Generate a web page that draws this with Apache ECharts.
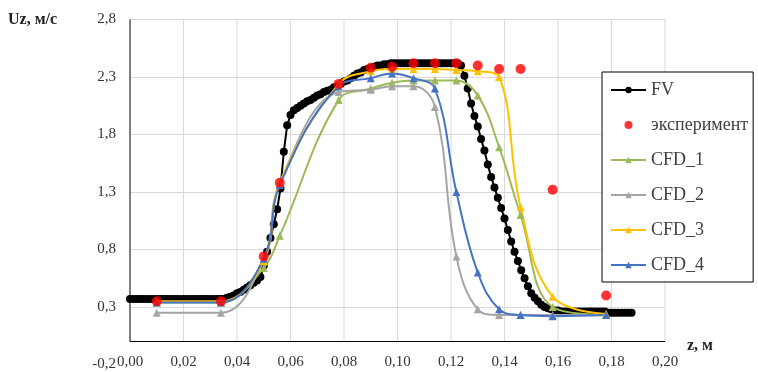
<!DOCTYPE html>
<html>
<head>
<meta charset="utf-8">
<script src="https://cdn.jsdelivr.net/npm/echarts@6.0.0/dist/echarts.min.js"></script>
<style>
html,body{margin:0;padding:0;background:#fff;}
#main{width:758px;height:372px;}
</style>
</head>
<body>
<div id="main"></div>
<script>
// точки эксперимента и узлы CFD
var cfdZ = [0.01, 0.034, 0.05, 0.056, 0.078, 0.09, 0.098, 0.106, 0.114, 0.122, 0.13, 0.138, 0.146, 0.158, 0.178];
var expU = [0.35, 0.35, 0.74, 1.38, 2.24, 2.38, 2.39, 2.42, 2.42, 2.42, 2.40, 2.37, 2.37, 1.32, 0.40];
var cfd1 = [0.34, 0.34, 0.64, 0.92, 2.10, 2.20, 2.25, 2.27, 2.27, 2.27, 2.14, 1.69, 1.10, 0.30, 0.23];
var cfd2 = [0.25, 0.25, 0.72, 1.38, 2.17, 2.19, 2.22, 2.22, 2.04, 0.74, 0.28, 0.23, 0.23, 0.23, 0.23];
var cfd3 = [0.35, 0.35, 0.70, 1.38, 2.24, 2.35, 2.37, 2.37, 2.37, 2.36, 2.35, 2.30, 1.17, 0.39, 0.24];
var cfd4 = [0.34, 0.34, 0.72, 1.36, 2.22, 2.29, 2.33, 2.29, 2.20, 1.30, 0.60, 0.28, 0.23, 0.22, 0.23];

// FV - плотная сетка
var fv = [
 [0,0.37],[0.00125,0.37],[0.0025,0.37],[0.00375,0.37],[0.005,0.37],[0.00625,0.37],
 [0.0075,0.37],[0.00875,0.37],[0.01,0.37],[0.01125,0.37],[0.0125,0.37],[0.01375,0.37],
 [0.015,0.37],[0.01625,0.37],[0.0175,0.37],[0.01875,0.37],[0.02,0.37],[0.02125,0.37],
 [0.0225,0.37],[0.02375,0.37],[0.025,0.37],[0.02625,0.37],[0.0275,0.37],[0.02875,0.37],
 [0.03,0.37],[0.03125,0.37],[0.0325,0.37],[0.03375,0.37],[0.035,0.37],[0.03625,0.38],
 [0.0375,0.39],[0.03875,0.40],[0.04,0.42],[0.04125,0.43],[0.0425,0.45],[0.04375,0.47],
 [0.045,0.49],[0.04625,0.51],[0.0475,0.53],[0.04875,0.56],[0.05,0.66],[0.05125,0.78],
 [0.0525,0.90],[0.05375,1.02],[0.055,1.15],[0.05625,1.33],[0.0575,1.65],[0.05875,1.88],
 [0.06,1.97],[0.06125,2.01],[0.0625,2.03],[0.06375,2.05],[0.065,2.07],[0.06625,2.09],
 [0.0675,2.10],[0.06875,2.12],[0.07,2.14],[0.07125,2.15],[0.0725,2.17],[0.07375,2.18],
 [0.075,2.19],[0.07625,2.21],[0.0775,2.22],[0.07875,2.24],[0.08,2.26],[0.08125,2.27],
 [0.0825,2.29],[0.08375,2.31],[0.085,2.33],[0.08625,2.34],[0.0875,2.36],[0.08875,2.37],
 [0.09,2.38],[0.09125,2.39],[0.0925,2.40],[0.09375,2.40],[0.095,2.41],[0.09625,2.41],
 [0.0975,2.42],[0.09875,2.42],[0.1,2.42],[0.10125,2.42],[0.1025,2.42],[0.10375,2.42],
 [0.105,2.42],[0.10625,2.42],[0.1075,2.42],[0.10875,2.42],[0.11,2.42],[0.11125,2.42],
 [0.1125,2.42],[0.11375,2.42],[0.115,2.42],[0.11625,2.42],[0.1175,2.42],[0.11875,2.42],
 [0.12,2.42],[0.12125,2.42],[0.1225,2.42],[0.12375,2.40],[0.125,2.31],[0.12625,2.20],
 [0.1275,2.07],[0.12875,1.96],[0.13,1.87],[0.13125,1.76],[0.1325,1.66],[0.13375,1.54],
 [0.135,1.43],[0.13625,1.34],[0.1375,1.25],[0.13875,1.16],[0.14,1.07],[0.14125,0.97],
 [0.1425,0.87],[0.14375,0.78],[0.145,0.70],[0.14625,0.62],[0.1475,0.55],[0.14875,0.48],
 [0.15,0.42],[0.15125,0.38],[0.1525,0.35],[0.15375,0.32],[0.155,0.30],[0.15625,0.29],
 [0.1575,0.28],[0.15875,0.27],[0.16,0.27],[0.16125,0.26],[0.1625,0.26],[0.16375,0.26],
 [0.165,0.26],[0.16625,0.26],[0.1675,0.26],[0.16875,0.26],[0.17,0.26],[0.17125,0.26],
 [0.1725,0.26],[0.17375,0.26],[0.175,0.26],[0.17625,0.26],[0.1775,0.26],[0.17875,0.25],
 [0.18,0.25],[0.18125,0.25],[0.1825,0.25],[0.18375,0.25],[0.185,0.25],[0.18625,0.25],
 [0.1875,0.25]
];

var legendNames = ['FV', 'эксперимент', 'CFD_1', 'CFD_2', 'CFD_3', 'CFD_4'];
// вертикальные линии сетки (только выше нуля, как в Excel)
var xGrid = [0.02, 0.04, 0.06, 0.08, 0.1, 0.12, 0.14, 0.16, 0.18, 0.2];
var xMin = 0, xMax = 0.2, yTop = 2.8;

function pairs(vals){
    return cfdZ.map(function(z, i){ return [z, vals[i]]; });
}
function comma(v, d){
    return v.toFixed(d).replace('.', ',');
}

var serif = 'Liberation Serif';
var myChart = echarts.init(document.getElementById('main'));

function cfdSeries(name, vals, color){
    return {
        name: name,
        type: 'line',
        smooth: 0.4,
        data: pairs(vals),
        symbol: 'triangle',
        symbolSize: 8,
        lineStyle: {color: color, width: 2},
        itemStyle: {color: color},
        z: 7
    };
}

// сетка: отрезки от 0 до верха, разрывы через '-'
var gridData = [];
xGrid.forEach(function(x){
    gridData.push([x, 0], [x, yTop], [x, '-']);
});
// оси: вертикальная в z=0 и горизонтальная в Uz=0
var axisData = [[xMin, yTop], [xMin, 0], [xMax, 0]];

function guideSeries(name, data, color, z){
    return {
        name: name, type: 'line', data: data, z: z,
        silent: true, showSymbol: false, symbol: 'none', connectNulls: false,
        lineStyle: {color: color, width: 1}, itemStyle: {color: color},
        emphasis: {disabled: true}
    };
}

var option = {
    animation: false,
    backgroundColor: '#fff',
    grid: {left: 130, right: 93, top: 19.5, bottom: 7.5, outerBoundsMode: 'none'},
    xAxis: {
        type: 'value', min: xMin, max: xMax, interval: 0.02,
        axisLine: {show: false, onZero: false},
        axisTick: {show: false},
        splitLine: {show: false},
        axisLabel: {
            margin: -10, color: '#333', fontFamily: serif, fontSize: 15,
            formatter: function(v){ return comma(v, 2); }
        }
    },
    yAxis: {
        type: 'value', min: -0.2, max: yTop, interval: 0.5,
        axisLine: {show: false},
        axisTick: {show: false},
        splitLine: {show: true, lineStyle: {
            color: ['rgba(0,0,0,0)', '#d9d9d9', '#d9d9d9', '#d9d9d9', '#d9d9d9', '#d9d9d9', '#d9d9d9'], width: 1}},
        axisLabel: {
            margin: 14, color: '#333', fontFamily: serif, fontSize: 15,
            formatter: function(v){ return comma(v, 1); }
        }
    },
    graphic: [{
        type: 'text', left: 8, top: 12,
        style: {text: 'Uz, м/с', font: 'bold 16px "Liberation Serif"', fill: '#222'}
    }, {
        type: 'text', left: 687, top: 338,
        style: {text: 'z, м', font: 'bold 16px "Liberation Serif"', fill: '#222'}
    }],
    legend: {
        data: legendNames,
        orient: 'vertical',
        left: 602, top: 72,
        z: 20,
        padding: [9, 5, 8, 8],
        itemGap: 17,
        itemWidth: 35, itemHeight: 8,
        borderColor: '#000', borderWidth: 1,
        backgroundColor: '#fff',
        textStyle: {fontFamily: serif, fontSize: 18, color: '#404040'}
    },
    series: [
    guideSeries('сетка', gridData, '#d9d9d9', 1),
    guideSeries('оси', axisData, '#000', 2),
    {
        name: 'FV',
        type: 'line',
        data: fv,
        symbol: 'circle',
        symbolSize: 8,
        lineStyle: {color: '#000', width: 2},
        itemStyle: {color: '#000'},
        z: 6
    },
    cfdSeries('CFD_1', cfd1, '#9bbb59'),
    cfdSeries('CFD_2', cfd2, '#a5a5a5'),
    cfdSeries('CFD_3', cfd3, '#ffc000'),
    cfdSeries('CFD_4', cfd4, '#4472c4'),
    {
        name: 'эксперимент',
        type: 'scatter',
        data: pairs(expU),
        symbol: 'circle',
        symbolSize: 10,
        itemStyle: {color: '#ff0000'},
        z: 8
    }]
};
myChart.setOption(option);
</script>
</body>
</html>
